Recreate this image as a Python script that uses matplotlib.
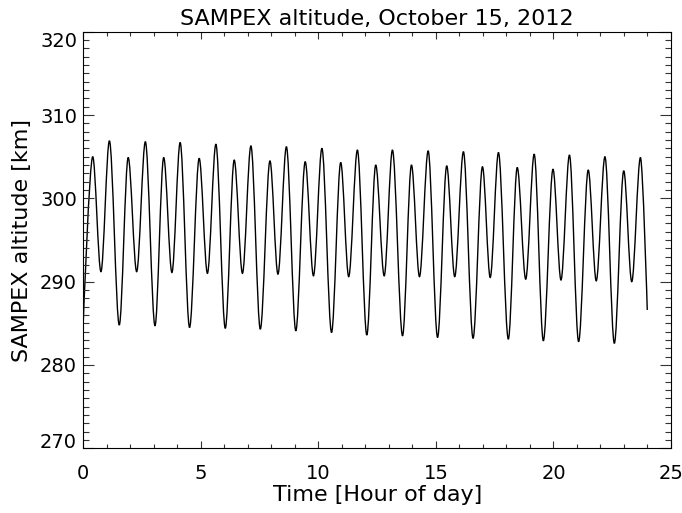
import matplotlib
matplotlib.use("Agg")
import matplotlib.pyplot as plt
from matplotlib.path import Path
from matplotlib.patches import PathPatch
from matplotlib.ticker import MultipleLocator

# turning points of the altitude curve (hour, km)
# first and last entries are the ends of the record, the rest are peaks/troughs
hours = [0.00, 0.40, 0.75, 1.11, 1.53, 1.91, 2.27, 2.64, 3.05, 3.42, 3.77, 4.12,
         4.52, 4.93, 5.28, 5.64, 6.04, 6.42, 6.77, 7.13, 7.53, 7.94, 8.28, 8.64,
         9.04, 9.44, 9.79, 10.15, 10.56, 10.95, 11.29, 11.66, 12.06, 12.44, 12.80,
         13.15, 13.58, 13.96, 14.30, 14.67, 15.07, 15.46, 15.80, 16.17, 16.58,
         16.98, 17.31, 17.66, 18.08, 18.46, 18.82, 19.18, 19.57, 19.98, 20.32,
         20.68, 21.07, 21.48, 21.82, 22.19, 22.59, 22.99, 23.33, 23.70, 23.99]
altitude = [285.2, 305.0, 291.2, 306.9, 284.8, 304.9, 291.2, 306.8, 284.7, 304.9,
            291.1, 306.7, 284.5, 304.8, 291.0, 306.5, 284.4, 304.6, 291.0, 306.3,
            284.3, 304.5, 290.9, 306.2, 284.1, 304.4, 290.7, 306.0, 283.9, 304.3,
            290.6, 305.8, 283.6, 304.0, 290.7, 305.8, 283.5, 304.0, 290.6, 305.7,
            283.3, 303.9, 290.6, 305.6, 283.2, 303.8, 290.5, 305.5, 283.1, 303.7,
            290.3, 305.3, 282.9, 303.5, 290.2, 305.2, 282.8, 303.4, 290.1, 305.0,
            282.6, 303.3, 290.0, 304.9, 286.6]

xTicks = [0, 5, 10, 15, 20, 25]
yTicks = [270, 280, 290, 300, 310, 320]


def orbitPath(t, y):
    # smooth curve through the turning points: flat tangents at each extremum
    verts = [(t[0], y[0])]
    codes = [Path.MOVETO]
    last = len(t) - 1
    for i in range(1, len(t)):
        dt = t[i] - t[i - 1]
        c1 = (t[i - 1], y[i - 1]) if i == 1 else (t[i - 1] + dt / 3, y[i - 1])
        c2 = (t[i], y[i]) if i == last else (t[i] - dt / 3, y[i])
        verts += [c1, c2, (t[i], y[i])]
        codes += [Path.CURVE4] * 3
    return Path(verts, codes)


def main():
    fig = plt.figure(figsize=(6.82, 5.13), dpi=100)
    ax = fig.add_axes([83.3 / 682, 1 - 448.3 / 513, (671 - 83.3) / 682, (448.3 - 31.7) / 513])

    ax.add_patch(PathPatch(orbitPath(hours, altitude), fill=False, edgecolor="black", lw=1.0))

    ax.set_xlim(0, 25)
    ax.set_ylim(270, 320)
    ax.set_xticks(xTicks)
    ax.set_yticks(yTicks)
    ax.xaxis.set_minor_locator(MultipleLocator(1))
    ax.yaxis.set_minor_locator(MultipleLocator(1))

    ax.tick_params(which="both", direction="in", top=True, right=True, width=0.8, color="#333333")
    ax.tick_params(axis="x", which="major", length=5.3, pad=11, labelsize=14)
    ax.tick_params(axis="x", which="minor", length=2.6)
    ax.tick_params(axis="y", which="major", length=7.9, pad=4.5, labelsize=14)
    ax.tick_params(axis="y", which="minor", length=4.0)
    for side in ax.spines.values():
        side.set_linewidth(0.8)

    ax.set_title("SAMPEX altitude, October 15, 2012", fontsize=16, pad=4.8)
    ax.set_xlabel("Time [Hour of day]", fontsize=16, labelpad=2)
    ax.set_ylabel("SAMPEX altitude [km]", fontsize=16, labelpad=6)

    # end labels on the y axis sit inside the box, like the original
    yLabels = ax.yaxis.get_major_ticks()
    yLabels[0].label1.set_verticalalignment("baseline")
    yLabels[-1].label1.set_verticalalignment("top")

    fig.savefig("out.png", dpi=100)


if __name__ == "__main__":
    main()
